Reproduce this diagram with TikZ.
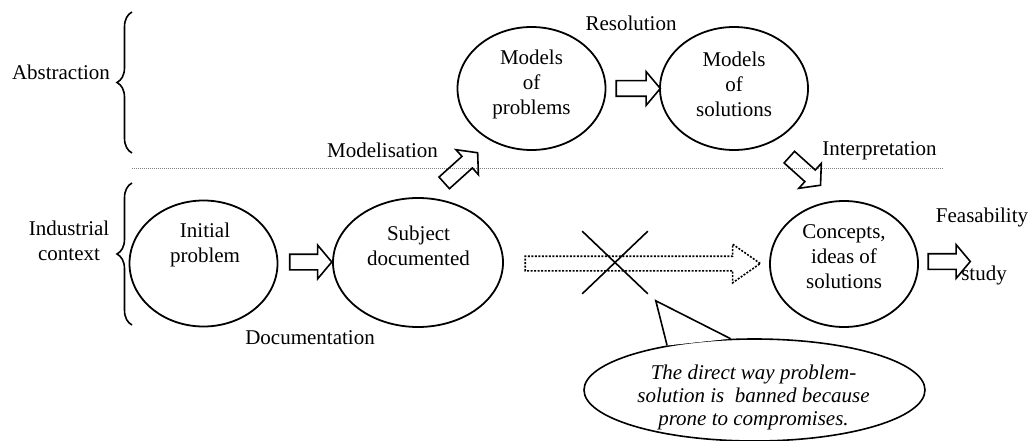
\documentclass[tikz,border=0pt]{standalone}
\usepackage{fontspec}
\setmainfont{Liberation Serif}
\usetikzlibrary{shapes.geometric,shapes.arrows,shapes.misc,decorations.pathreplacing,calc}

\tikzset{
  idea/.style={draw,ellipse,line width=1.8pt,minimum width=148pt,minimum height=126pt,inner sep=0pt},
  txt/.style={align=center,font=\fontsize{21}{25}\selectfont,inner sep=0pt},
  blockarrow/.style={draw,single arrow,line width=1.6pt,inner xsep=0pt,inner ysep=7pt,
    single arrow head extend=9pt,single arrow tip angle=100,minimum height=42pt},
  bracket/.style={decorate,decoration={brace,amplitude=15pt},line width=1.6pt},
}

\begin{document}
\begin{tikzpicture}[x=1pt,y=-1pt]
  \useasboundingbox (0,0) rectangle (1033,441);
  % levels
  \draw[bracket] (132,153) -- (132,12);
  \draw[bracket] (132,325) -- (132,183);
  \node[txt] (abs) at (61,72) {Abstraction};
  \node[txt] (ind) at (69,241) {Industrial\\context};
  \draw[gray,line width=0.8pt,dash pattern=on 1pt off 1pt] (132,168) -- (943,168);
  % ideas
  \node[idea] (init) at (203.5,263.5) {};
  \node[idea,minimum width=170pt,minimum height=129pt] (subj) at (418,262.5) {};
  \node[idea,minimum height=123pt] (prob) at (531.5,88.5) {};
  \node[idea,minimum height=123pt] (sol) at (734,88.5) {};
  \node[idea] (conc) at (844,264) {};
  \node[txt] (initT) at (205,245) {Initial\\problem};
  \node[txt] (subjT) at (418.5,245.5) {Subject\\documented};
  \node[txt] (probT) at (531.5,84) {Models\\of\\problems};
  \node[txt] (solT) at (734,84) {Models\\of\\solutions};
  \node[txt] (concT) at (844,257) {Concepts,\\ideas of\\solutions};
  % steps
  \node[blockarrow] (a1) at (307.5,262) {};
  \node[blockarrow,minimum height=44pt] (a2) at (635,88.5) {};
  \node[blockarrow,minimum height=45pt,rotate=42] (a3) at (458.5,170) {};
  \node[blockarrow,rotate=-42] (a4) at (802.5,169) {};
  \node[blockarrow] (a6) at (946,261.5) {};
  \node[blockarrow,dash pattern=on 2pt off 1.5pt,inner ysep=6.5pt,single arrow head extend=12pt,
    single arrow tip angle=70,minimum height=235pt] (direct) at (637.5,263.5) {};
  \node[txt] (res) at (631,23) {Resolution};
  \node[txt] (mod) at (382.5,150) {Modelisation};
  \node[txt] (intp) at (879.5,151) {Interpretation};
  \node[txt] (doc) at (310,338) {Documentation};
  \node[txt] (feas) at (982,217) {Feasability};
  \node[txt] (study) at (984,275) {study};
  % banned way
  \node[draw,cross out,line width=1.6pt,minimum width=64pt,minimum height=61pt,inner sep=0pt] (cross) at (615,262.5) {};
  \coordinate (tip) at ($(cross.south east)+(8,7)$);
  \node[draw,ellipse,line width=1.6pt,minimum width=341pt,minimum height=102pt,inner sep=0pt] (bubble) at (754.5,390) {};
  \draw[line width=1.6pt,fill=white,line join=miter] (bubble.153) -- (tip) -- (bubble.115);
  \node[txt,font=\fontsize{21}{23}\selectfont\itshape] (noteT) at (753.5,397)
    {The direct way problem-\\solution is\ \ banned because\\prone to compromises.};
\end{tikzpicture}
\end{document}
